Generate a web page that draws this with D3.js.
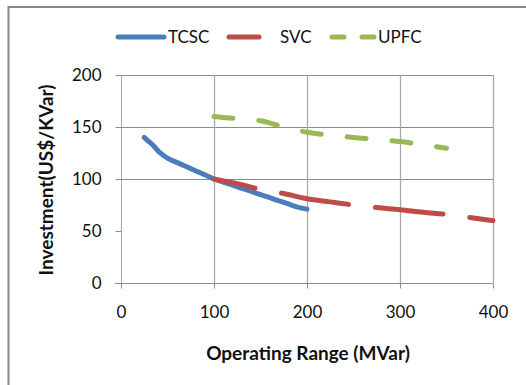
<!DOCTYPE html>
<html><head><meta charset="utf-8">
<script src="https://cdn.jsdelivr.net/npm/d3@7/dist/d3.min.js"></script>
<style>body{margin:0;background:#fff}svg{display:block;font-family:Lato,"Open Sans",sans-serif}</style>
</head><body><svg id="c" width="526" height="385"></svg>
<script>
const xTicks = [0, 100, 200, 300, 400];
const yTicks = [0, 50, 100, 150, 200];
const yGrid = [100, 150, 200];
const seriesNames = ["TCSC", "SVC", "UPFC"];
const tcscX = [25, 30, 35, 40, 45, 50, 60, 70, 80, 90, 100, 110, 120, 130, 140, 150, 160, 170, 180, 190, 200];
const tcscY = [140, 136, 132, 127, 123, 120, 116, 112, 108, 104, 100, 97, 94, 91, 88, 85, 82, 79, 76, 73, 71];
const svcX = [100, 125, 150, 175, 200, 225, 250, 275, 300, 325, 350, 375, 400];
const svcY = [100, 95.5, 90, 86, 81, 78, 75, 72.5, 70.5, 68, 66, 63, 60];
const upfcX = [100, 125, 150, 175, 200, 225, 250, 275, 300, 325, 350];
const upfcY = [160, 158, 156, 150, 145, 142, 140, 138, 136, 133, 129.5];

const svg = d3.select("#c");
const x = d3.scaleLinear().domain([0, 400]).range([121, 493]);
const y = d3.scaleLinear().domain([0, 200]).range([283, 75]);

// outer border
svg.append("rect").attr("x", 8.5).attr("y", 7).attr("width", 540).attr("height", 400)
  .attr("fill", "none").attr("stroke", "#888").attr("stroke-width", 2);

// horizontal gridlines
svg.append("g").selectAll("line").data(yGrid).join("line")
  .attr("x1", x(0)).attr("x2", x(400)).attr("y1", d => y(d) + 0.5).attr("y2", d => y(d) + 0.5)
  .attr("stroke", "#8c8c8c").attr("stroke-width", 1);
// vertical gridlines
svg.append("g").selectAll("line").data(xTicks.slice(1)).join("line")
  .attr("x1", d => x(d) + 0.5).attr("x2", d => x(d) + 0.5).attr("y1", y(200)).attr("y2", y(0))
  .attr("stroke", "#a8a8a8").attr("stroke-width", 1.3);

// axes
const xAxis = d3.axisBottom(x).tickValues(xTicks).tickSize(5).tickPadding(17);
const gx = svg.append("g").attr("transform", `translate(0,${y(0) + 0.5})`).call(xAxis);
gx.select(".domain").attr("d", `M${x(0) - 6},0H${x(400)}`).attr("stroke", "#8c8c8c");
gx.selectAll(".tick line").attr("stroke", "#8c8c8c");
gx.selectAll("text").attr("font-size", 17).attr("fill", "#111").attr("font-family", "Lato");

const yAxis = d3.axisLeft(y).tickValues(yTicks).tickSize(6).tickPadding(14);
const gy = svg.append("g").attr("transform", `translate(${x(0) + 0.5},0)`).call(yAxis);
gy.select(".domain").attr("d", `M0,${y(200)}V${y(0)}`).attr("stroke", "#a8a8a8");
gy.selectAll(".tick line").attr("stroke", "#8c8c8c");
gy.selectAll("text").attr("font-size", 17).attr("fill", "#111").attr("font-family", "Lato");

// axis titles
svg.append("text").attr("x", 308).attr("y", 360).attr("text-anchor", "middle")
  .attr("font-size", 19).attr("font-weight", "bold").attr("fill", "#111").text("Operating Range (MVar)");
svg.append("text").attr("transform", "translate(53,180) rotate(-90)").attr("text-anchor", "middle")
  .attr("font-size", 19).attr("font-weight", "bold").attr("fill", "#111").text("Investment(US$/KVar)");

// series
const line = d3.line().x(d => x(d[0])).y(d => y(d[1])).curve(d3.curveMonotoneX);
const styles = [
  {color: "#4A7EBB", dash: null, off: 0},
  {color: "#BE4B48", dash: "68,27", off: 26},
  {color: "#98B954", dash: "19,26", off: 0}
];
const data = [d3.zip(tcscX, tcscY), d3.zip(svcX, svcY), d3.zip(upfcX, upfcY)];
data.forEach((pts, i) => {
  svg.append("path").attr("d", line(pts)).attr("fill", "none")
    .attr("stroke", styles[i].color).attr("stroke-width", 5).attr("stroke-linecap", "round")
    .attr("stroke-dasharray", styles[i].dash).attr("stroke-dashoffset", styles[i].off);
});

// legend
const leg = [
  {x1: 118, x2: 164, tx: 168, dash: null},
  {x1: 229, x2: 259, tx: 280, dash: null},
  {x1: 332, x2: 374, tx: 378, dash: "12,18"}
];
leg.forEach((l, i) => {
  svg.append("line").attr("x1", l.x1).attr("x2", l.x2).attr("y1", 37).attr("y2", 37)
    .attr("stroke", styles[i].color).attr("stroke-width", 5).attr("stroke-linecap", "round")
    .attr("stroke-dasharray", l.dash);
  svg.append("text").attr("x", l.tx).attr("y", 43).attr("font-size", 17).attr("fill", "#111")
    .text(seriesNames[i]);
});
</script></body></html>
